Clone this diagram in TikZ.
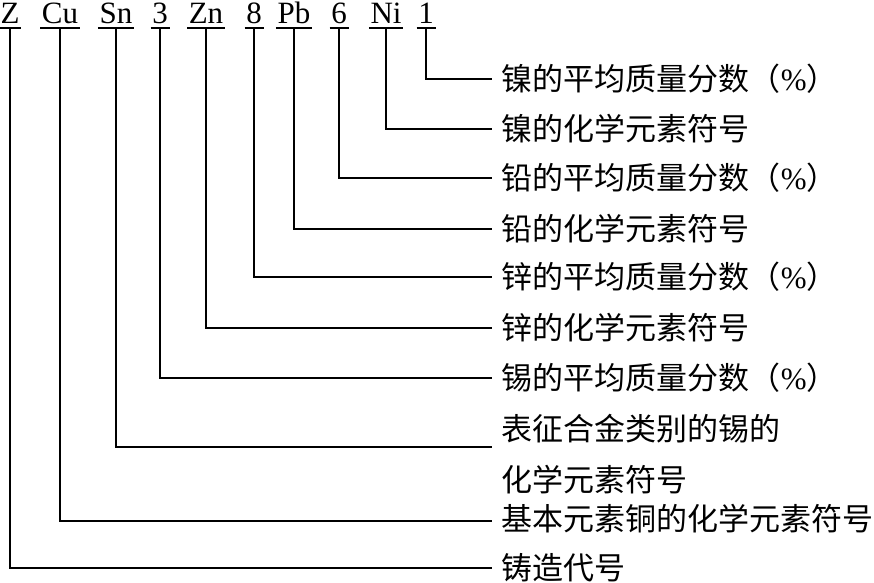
\documentclass[tikz,border=0pt]{standalone}
\usepackage{fontspec}
\setmainfont{Liberation Serif}
\newfontfamily\cjk{Noto Sans CJK SC}
\usetikzlibrary{calc}
\begin{document}
\begin{tikzpicture}[x=1pt,y=-1pt,line width=1.5pt,
sym/.style={anchor=base,inner xsep=1pt,inner ysep=2pt,text height=20pt,text depth=2pt,font=\fontsize{31}{31}\selectfont},
lbl/.style={anchor=west,inner xsep=9pt,align=left,font=\fontsize{31}{51}\selectfont\cjk}]
\useasboundingbox(0,0)rectangle(874,582);
\node[sym](z)at(10,23){Z};\node[sym](cu)at(60,23){Cu};\node[sym](sn)at(116,23){Sn};
\node[sym](t)at(160,23){3};\node[sym](zn)at(206,23){Zn};\node[sym](e)at(254,23){8};
\node[sym](pb)at(294,23){Pb};\node[sym](s)at(339,23){6};\node[sym](ni)at(386,23){Ni};
\node[sym](o)at(426,23){1};
\foreach \n in {z,cu,sn,t,zn,e,pb,s,ni,o}\draw(\n.south west)--(\n.south east);
\node[lbl](a)at(492,79){镍的平均质量分数（{\rmfamily\%}）};
\node[lbl](b)at(492,129){镍的化学元素符号};
\node[lbl](c)at(492,178){铅的平均质量分数（{\rmfamily\%}）};
\node[lbl](d)at(492,229){铅的化学元素符号};
\node[lbl](f)at(492,277){锌的平均质量分数（{\rmfamily\%}）};
\node[lbl](g)at(492,328){锌的化学元素符号};
\node[lbl](h)at(492,378){锡的平均质量分数（{\rmfamily\%}）};
\node[lbl](k)at(492,454){表征合金类别的锡的\\化学元素符号};
\node[lbl](m)at(492,519){基本元素铜的化学元素符号};
\node[lbl](p)at(492,568){铸造代号};
\draw(o.south)|-(a.west);\draw(ni.south)|-(b.west);\draw(s.south)|-(c.west);
\draw(pb.south)|-(d.west);\draw(e.south)|-(f.west);\draw(zn.south)|-(g.west);
\draw(t.south)|-(h.west);\draw(sn.south)|-([yshift=7pt]k.west);
\draw(cu.south)|-([yshift=-2pt]m.west);\draw(z.south)|-(p.west);
\end{tikzpicture}
\end{document}
